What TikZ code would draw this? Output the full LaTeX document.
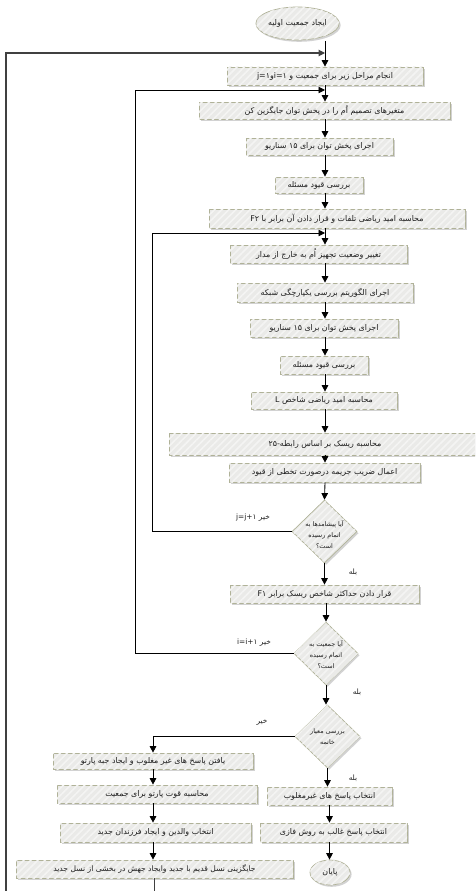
\documentclass[tikz,border=0pt]{standalone}
\usepackage{fontspec}
\TeXXeTstate=1
\newfontfamily\arabicfont[Script=Arabic]{DejaVu Sans}
\usetikzlibrary{arrows.meta,shapes.geometric,shadows,patterns.meta}
\newcommand{\prs}[1]{\beginR #1\endR}
\definecolor{boxfill}{RGB}{234,234,232}
\definecolor{stripe}{RGB}{244,244,243}
\definecolor{boxline}{RGB}{176,178,152}
\definecolor{txt}{RGB}{30,30,30}
\tikzset{
  shapebase/.style={draw=boxline, line width=0.7pt, fill=boxfill,
    drop shadow={shadow xshift=1.6pt, shadow yshift=-1.8pt, fill=black!35, opacity=0.5},
    postaction={pattern={Lines[angle=45,distance=5pt,line width=1.6pt]}, pattern color=stripe},
    text=txt, inner sep=0pt},
  box/.style={shapebase, rectangle, font=\arabicfont\fontsize{7.9}{9}\selectfont},
  ell/.style={shapebase, ellipse, font=\arabicfont\fontsize{7.9}{9}\selectfont},
  dia/.style={shapebase, diamond},
  dtext/.style={font=\arabicfont\fontsize{6.4}{11}\selectfont, text=txt, align=center, inner sep=0pt},
  lbl/.style={font=\arabicfont\fontsize{7.4}{9}\selectfont, text=txt, inner sep=0pt},
  arr/.style={draw=black, line width=0.85pt, -{Triangle[length=6.5pt,width=6.5pt]}},
  loopl/.style={draw=black!75, line width=1.1pt, -{Triangle[length=6.5pt,width=6.5pt]}},
}
\begin{document}
\begin{tikzpicture}[x=1pt,y=1pt]
\path[use as bounding box] (0,0) rectangle (475,-891);
\clip (0,0) rectangle (475,-891);
\coordinate (ax) at (325,0);

% start
\node[ell, minimum width=59pt, minimum height=33pt] (st) at (297.5,-23.5) {\prs{ایجاد جمعیت اولیه}};
\coordinate (s0) at (325,-41);

% main column
\node[box, minimum width=196pt, minimum height=18pt] (b1) at (325,-76) {\prs{انجام مراحل زیر برای جمعیت و \beginL i=۱\endL و\beginL j=۱\endL}};
\node[box, minimum width=251pt, minimum height=17pt] (b2) at (324.5,-110.5) {\prs{متغیرهای تصمیم اُم را در پخش توان جایگزین کن}};
\node[box, minimum width=147pt, minimum height=17pt] (b3) at (319.5,-146.5) {\prs{اجرای پخش توان برای ۱۵ سناریو}};
\node[box, minimum width=88pt, minimum height=16pt] (b4) at (319,-185) {\prs{بررسی قیود مسئله}};
\node[box, minimum width=256pt, minimum height=19pt] (b5) at (337,-218.5) {\prs{محاسبه امید ریاضی تلفات و قرار دادن آن برابر با \beginL F۲\endL}};
\node[box, minimum width=177pt, minimum height=18pt] (b6) at (318.5,-254) {\prs{تغییر وضعیت تجهیز اُم به خارج از مدار}};
\node[box, minimum width=176pt, minimum height=19pt] (b7) at (325,-292.5) {\prs{اجرای الگوریتم بررسی یکپارچگی شبکه}};
\node[box, minimum width=148pt, minimum height=18pt] (b8) at (324,-328) {\prs{اجرای پخش توان برای ۱۵ سناریو}};
\node[box, minimum width=88pt, minimum height=18pt] (b9) at (324,-365) {\prs{بررسی قیود مسئله}};
\node[box, minimum width=146pt, minimum height=17pt] (b10) at (324,-400.5) {\prs{محاسبه امید ریاضی شاخص \beginL L\endL}};
\node[box, minimum width=312pt, minimum height=22pt] (b11) at (325,-444) {\prs{محاسبه ریسک بر اساس رابطه-۲۵}};
\node[box, minimum width=191pt, minimum height=19pt] (b12) at (324.5,-472.5) {\prs{اعمال ضریب جریمه درصورت تخطی از قیود}};
\node[dia, minimum width=65pt, minimum height=63pt] (d1) at (324.5,-531.5) {};
\node[dtext] (d1t) at (324.5,-535) {\prs{آیا پیشامدها به}\\\prs{اتمام رسیده}\\\prs{است؟}};
\node[box, minimum width=189pt, minimum height=18pt] (b13) at (324.5,-594) {\prs{قرار دادن حداکثر شاخص ریسک برابر \beginL F۱\endL}};
\node[dia, minimum width=64pt, minimum height=63pt] (d2) at (326,-653.5) {};
\node[dtext] (d2t) at (326,-655) {\prs{آیا جمعیت به}\\\prs{اتمام رسیده}\\\prs{است؟}};
\node[dia, minimum width=65pt, minimum height=63pt] (d3) at (327.5,-736.5) {};
\node[dtext] (d3t) at (327.5,-737) {\prs{بررسی معیار}\\\prs{خاتمه}};

% left column
\node[box, minimum width=200pt, minimum height=16pt] (b14) at (153,-761) {\prs{یافتن پاسخ های غیر مغلوب و ایجاد جبه پارتو}};
\node[box, minimum width=200pt, minimum height=18pt] (b15) at (157,-794) {\prs{محاسبه قوت پارتو برای جمعیت}};
\node[box, minimum width=191pt, minimum height=19pt] (b16) at (155.5,-832.5) {\prs{انتخاب والدین و ایجاد فرزندان جدید}};
\node[box, minimum width=277pt, minimum height=18pt, font=\arabicfont\fontsize{7.6}{9}\selectfont] (b17) at (154.5,-869) {\prs{جایگزینی نسل قدیم با جدید وایجاد جهش در بخشی از نسل جدید}};

% right column
\node[box, minimum width=125pt, minimum height=18pt] (b18) at (329.5,-796) {\prs{انتخاب پاسخ های غیرمغلوب}};
\node[box, minimum width=147pt, minimum height=19pt] (b19) at (333.5,-832.5) {\prs{انتخاب پاسخ غالب به روش فازی}};
\node[ell, minimum width=40pt, minimum height=25pt] (en) at (330,-872.5) {\prs{پایان}};

% labels
\node[lbl] (l1) at (253,-518) {\prs{خیر \beginL j=j+۱\endL}};
\node[lbl] (l2) at (353,-572) {\prs{بله}};
\node[lbl] (l3) at (254,-643) {\prs{خیر \beginL i=i+۱\endL}};
\node[lbl] (l4) at (357,-692) {\prs{بله}};
\node[lbl] (l5) at (262,-722) {\prs{خیر}};
\node[lbl] (l6) at (353,-778) {\prs{بله}};

% loop coordinates
\coordinate (oj) at (325,-53);
\coordinate (oc) at (6,-905);
\coordinate (ij) at (325,-90);
\coordinate (ic) at (135,0);
\coordinate (jj) at (325,-233);
\coordinate (jc) at (152,0);

% main arrows
\draw[arr] (s0) -- (b1.north -| ax);
\draw[arr] (b1.south -| ax) -- (b2.north -| ax);
\draw[arr] (b2.south -| ax) -- (b3.north -| ax);
\draw[arr] (b3.south -| ax) -- (b4.north -| ax);
\draw[arr] (b4.south -| ax) -- (b5.north -| ax);
\draw[arr] (b5.south -| ax) -- (b6.north -| ax);
\draw[arr] (b6.south -| ax) -- (b7.north -| ax);
\draw[arr] (b7.south -| ax) -- (b8.north -| ax);
\draw[arr] (b8.south -| ax) -- (b9.north -| ax);
\draw[arr] (b9.south -| ax) -- (b10.north -| ax);
\draw[arr] (b10.south -| ax) -- (b11.north -| ax);
\draw[arr] (b11.south -| ax) -- (b12.north -| ax);
\draw[arr] (b12.south -| ax) -- (d1.north);
\draw[arr] (d1.south) -- (d1.south |- b13.north);
\draw[arr] (b13.south -| d2.north) -- (d2.north);
\draw[arr] (d2.south) -- (d2.south |- d3.north);
\draw[arr] (d3.south) -- (d3.south |- b18.north);
\draw[arr] (b18.south) -- (b18.south |- b19.north);
\draw[arr] (b19.south -| b18.south) -- (b18.south |- en.north);
\draw[arr] (d3.west) -| (b14.north);
\draw[arr] (b14.south) -- (b14.south |- b15.north);
\draw[arr] (b15.south -| b14.south) -- (b14.south |- b16.north);
\draw[arr] (b16.south -| b14.south) -- (b14.south |- b17.north);

% loops
\draw[arr] (d1.west) -- (d1.west -| jc) |- (jj);
\draw[arr] (d2.west) -- (d2.west -| ic) |- (ij);
\draw[loopl] (b17.south) |- (oc) |- (oj);
\end{tikzpicture}
\end{document}
